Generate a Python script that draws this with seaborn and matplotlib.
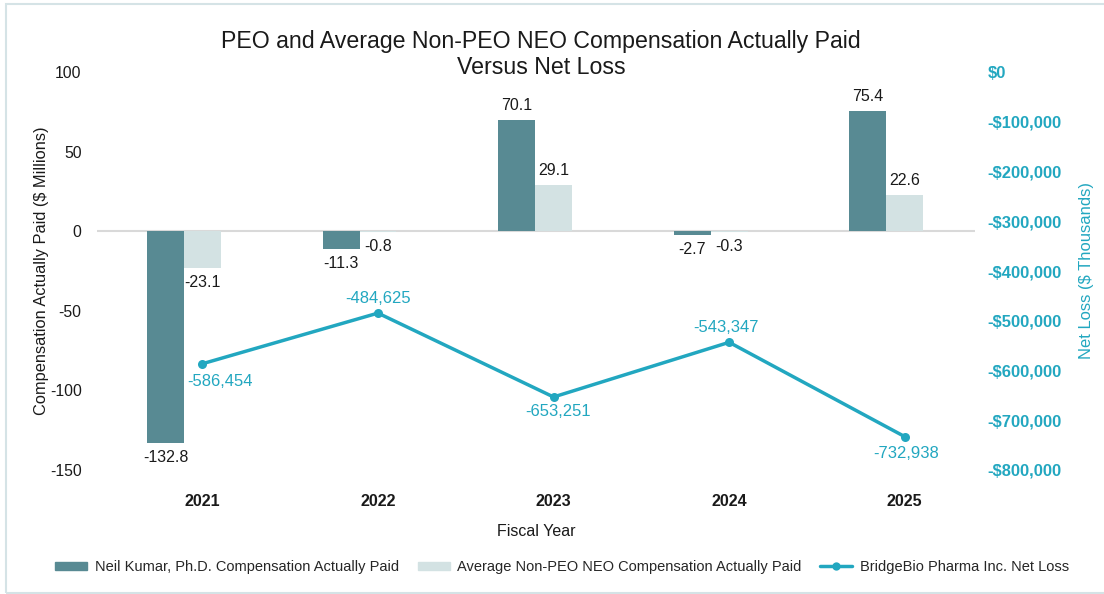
import matplotlib
matplotlib.use("Agg")
import matplotlib.pyplot as plt
import matplotlib.ticker as mtick
from matplotlib.lines import Line2D
from matplotlib.patches import Patch, Rectangle
import pandas as pd
import seaborn as sns

# data
years = ["2021", "2022", "2023", "2024", "2025"]
peo_cap = [-132.8, -11.3, 70.1, -2.7, 75.4]
neo_cap = [-23.1, -0.8, 29.1, -0.3, 22.6]
net_loss = [-586454, -484625, -653251, -543347, -732938]

peo_label = "Neil Kumar, Ph.D. Compensation Actually Paid"
neo_label = "Average Non-PEO NEO Compensation Actually Paid"
loss_label = "BridgeBio Pharma Inc. Net Loss"

PEO_COLOR = "#588a93"
NEO_COLOR = "#d3e2e3"
LOSS_COLOR = "#22a7c0"
TEXT_COLOR = "#1a1a1a"

sns.set_theme(style="white")
plt.rcParams["font.family"] = ["Liberation Sans", "DejaVu Sans"]
plt.rcParams["axes.unicode_minus"] = False

df = pd.DataFrame({
    "year": years * 2,
    "value": peo_cap + neo_cap,
    "series": [peo_label] * len(years) + [neo_label] * len(years),
})

W, H = 1104, 594
fig = plt.figure(figsize=(W / 100, H / 100), dpi=100)
ax = fig.add_axes([97 / W, 1 - 470 / H, (975 - 97) / W, (470 - 72) / H])

# third (empty) hue level keeps the Excel-style cluster spacing
sns.barplot(
    data=df, x="year", y="value", hue="series",
    hue_order=[peo_label, neo_label, "_spacer"],
    palette={peo_label: PEO_COLOR, neo_label: NEO_COLOR, "_spacer": "white"},
    width=0.63, saturation=1, errorbar=None, legend=False, linewidth=0, ax=ax,
)
for cont in ax.containers:
    ax.bar_label(cont, fmt="%.1f", padding=5, fontsize=11.5, color=TEXT_COLOR)

ax.axhline(0, color="#d9d9d9", lw=1.5, zorder=0)
ax.set_xlim(-0.6, 4.4)
ax.set_ylim(-150, 100)
ax.set_yticks([-150, -100, -50, 0, 50, 100])
ax.tick_params(axis="both", length=0, labelsize=11.3, labelcolor=TEXT_COLOR)
ax.tick_params(axis="y", pad=11)
ax.tick_params(axis="x", pad=17, labelsize=11.6)
for t in ax.get_xticklabels():
    t.set_fontweight("bold")
ax.set_xlabel("Fiscal Year", fontsize=11.5, color=TEXT_COLOR, labelpad=11)
ax.set_ylabel("Compensation Actually Paid ($ Millions)", fontsize=11.8, color=TEXT_COLOR)
ax.yaxis.set_label_coords(-0.055, 0.5)

# net loss line on the right axis
ax2 = ax.twinx()
x_pos = list(range(len(years)))
sns.lineplot(x=x_pos, y=net_loss, ax=ax2, color=LOSS_COLOR, lw=2.5,
             marker="o", markersize=6.5, markeredgewidth=0)
offsets = [(18, -18), (0, 15), (5, -15), (-3, 15), (1, -17)]
for xi, val, off in zip(x_pos, net_loss, offsets):
    ax2.annotate(f"{val:,}", (xi, val), xytext=off, textcoords="offset pixels",
                 ha="center", va="center", fontsize=12, color=LOSS_COLOR)
ax2.set_ylim(-800000, 0)
ax2.set_yticks(range(-800000, 1, 100000))
ax2.yaxis.set_major_formatter(mtick.FuncFormatter(
    lambda v, p: f"-${abs(v):,.0f}" if v < 0 else f"${v:,.0f}"))
ax2.tick_params(axis="y", length=0, pad=9, labelsize=11.9, labelcolor=LOSS_COLOR)
for t in ax2.get_yticklabels():
    t.set_fontweight("bold")
ax2.set_ylabel("Net Loss ($ Thousands)", fontsize=11.9, color=LOSS_COLOR)
ax2.yaxis.set_label_coords(1.119, 0.5)

for a in (ax, ax2):
    for s in a.spines.values():
        s.set_visible(False)
    a.grid(False)

fig.suptitle("PEO and Average Non-PEO NEO Compensation Actually Paid\nVersus Net Loss",
             x=541 / W, y=1 - 30 / H, fontsize=16.7, color=TEXT_COLOR, linespacing=1.15)

handles = [
    Patch(color=PEO_COLOR, label=peo_label),
    Patch(color=NEO_COLOR, label=neo_label),
    Line2D([], [], color=LOSS_COLOR, lw=2.5, marker="o", markersize=6,
           markeredgewidth=0, label=loss_label),
]
fig.legend(handles=handles, loc="center", bbox_to_anchor=(562 / W, 1 - 567 / H),
           ncol=3, frameon=False, fontsize=10.5, handlelength=2.2,
           handleheight=0.45, columnspacing=1.3, handletextpad=0.5)

fig.patches.append(Rectangle((6 / W, 1 / H), 1.1, 1 - 5 / H, transform=fig.transFigure,
                             fill=False, ec="#d5e3e6", lw=1.5))

fig.savefig("out.png", dpi=100)
